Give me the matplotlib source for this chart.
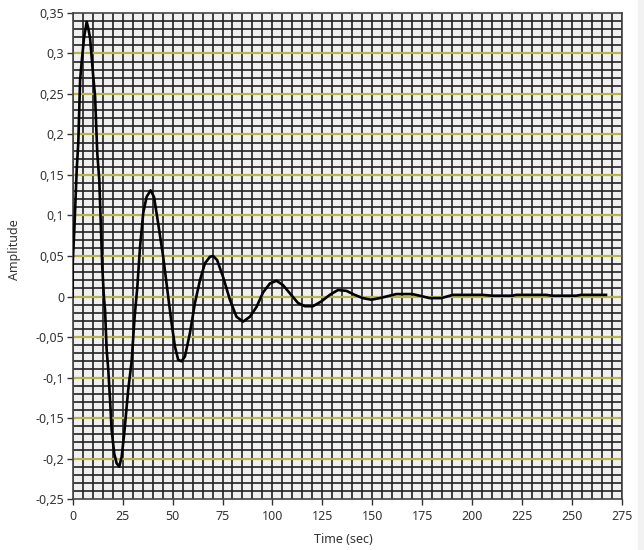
import numpy as np
import matplotlib
matplotlib.use("Agg")
import matplotlib.pyplot as plt
from matplotlib.ticker import FuncFormatter
from matplotlib.patches import Rectangle

# values
time_sec = [0, 0, 0.8, 2, 2.8, 3.7, 4.5, 5.7, 7, 7.8,
            8.7, 10.3, 11.2, 12.3, 13.3, 14, 14.8, 15.6, 16.2, 17,
            17.8, 18.7, 19.5, 20.8, 22, 23.3, 24.5, 25.8, 27.8, 29.5,
            31, 32.3, 33.7, 35.3, 37, 39, 40.7, 42.8, 45.3, 47.8,
            49.5, 51.2, 52.8, 54.5, 56.2, 58.7, 61.2, 63.7, 66.2, 68.7,
            70.3, 72.3, 75.3, 78.7, 82, 85.3, 88.7, 92, 95.3, 98.7,
            102, 105.3, 108.7, 112.8, 116.2, 120.3, 124.5, 128.7, 132.8, 137,
            141.2, 145.3, 149.5, 153.7, 158.7, 162, 170, 173.7, 178.7, 184.5,
            190.3, 205.3, 210, 220, 222, 237, 240, 252, 254.5, 267]
amplitude = [0, 0.041, 0.082, 0.156, 0.19, 0.267, 0.29, 0.32, 0.339, 0.331,
             0.319, 0.271, 0.247, 0.177, 0.144, 0.094, 0.037, 0.0, -0.017, -0.066,
             -0.09, -0.128, -0.165, -0.194, -0.206, -0.21, -0.198, -0.169, -0.115, -0.08,
             -0.025, 0.01, 0.061, 0.103, 0.123, 0.131, 0.123, 0.09, 0.049, 0.0,
             -0.033, -0.062, -0.078, -0.08, -0.074, -0.045, -0.008, 0.02, 0.041, 0.049,
             0.05, 0.045, 0.024, -0.004, -0.025, -0.031, -0.025, -0.013, 0.005, 0.016,
             0.0195, 0.014, 0.004, -0.008, -0.012, -0.012, -0.006, 0.002, 0.008, 0.007,
             0.002, -0.002, -0.004, -0.002, 0.001, 0.003, 0.003, 0.001, -0.002, -0.002,
             0.002, 0.002, 0.001, 0.001, 0.002, 0.002, 0.001, 0.001, 0.002, 0.002]

x_ticks = [0, 25, 50, 75, 100, 125, 150, 175, 200, 225, 250, 275]
y_ticks = [-0.25, -0.2, -0.15, -0.1, -0.05, 0, 0.05, 0.1, 0.15, 0.2, 0.25, 0.3, 0.35]

plt.rcParams['font.family'] = ['Noto Sans', 'DejaVu Sans']
text_color = '#333333'

fig = plt.figure(figsize=(6.44, 5.5), dpi=100)
# light window edge on the right
fig.patches.append(Rectangle((638 / 644, 0), 6 / 644, 1, transform=fig.transFigure,
                             color='#f2f2f2', zorder=0))
ax = fig.add_axes([0.1129, 0.0927, 0.8529, 0.8837])
ax.set_facecolor('#f0f0f0')

ax.plot(time_sec, amplitude, color='black', linewidth=1.9, zorder=5)

ax.set_xlim(0, 275)
ax.set_ylim(-0.25, 0.35)
ax.set_xticks(x_ticks)
ax.set_yticks(y_ticks)
ax.set_xticks(np.arange(0, 276, 5), minor=True)
ax.set_yticks(np.arange(-25, 36) / 100, minor=True)

def comma_fmt(v, pos):
    s = ('%.2f' % v).rstrip('0').rstrip('.')
    if s in ('-0', ''):
        s = '0'
    return s.replace('.', ',')

ax.yaxis.set_major_formatter(FuncFormatter(comma_fmt))

ax.xaxis.grid(True, which='both', color='#222222', linewidth=1.2)
ax.yaxis.grid(True, which='minor', color='#222222', linewidth=1.2)
ax.yaxis.grid(True, which='major', color='#b8b44c', linewidth=1.6)
ax.set_axisbelow(True)

# no yellow line on the top and bottom border
ymaj = ax.yaxis.get_major_ticks()
ymaj[0].gridline.set_visible(False)
ymaj[-1].gridline.set_visible(False)

ax.tick_params(which='major', direction='out', length=4.5, width=1, color='#333333',
               labelsize=9, labelcolor=text_color)
ax.tick_params(axis='x', which='major', pad=3.5)
ax.tick_params(axis='y', which='major', pad=1.5)
ax.tick_params(which='minor', length=0)

for sp in ax.spines.values():
    sp.set_color('#444444')
    sp.set_linewidth(1.2)

ax.set_xlabel('Time (sec)', fontsize=9, color=text_color)
ax.set_ylabel('Amplitude', fontsize=9, color=text_color)
ax.xaxis.set_label_coords(0.492, -0.07)
ax.yaxis.set_label_coords(-0.094, 0.514)

fig.savefig('out.png', dpi=100)
